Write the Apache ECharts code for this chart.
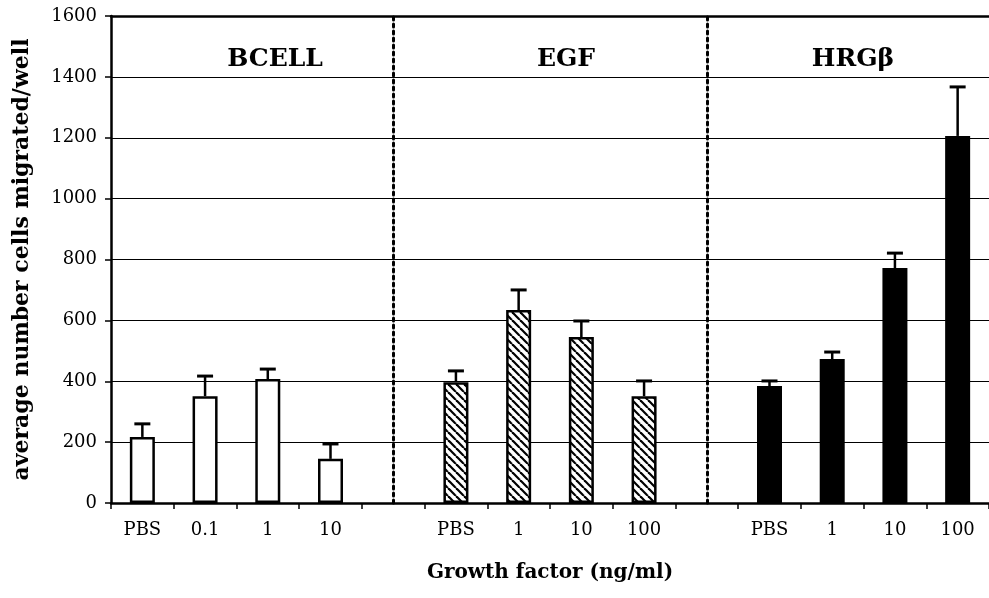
<!DOCTYPE html>
<html>
<head>
<meta charset="utf-8">
<script src="https://cdn.jsdelivr.net/npm/echarts@6/dist/echarts.min.js"></script>
<style>
html,body{margin:0;padding:0;background:#fff;}
#chart{width:989px;height:598px;}
</style>
</head>
<body>
<div id="chart"></div>
<script>
// ---- data ----
var categories = ['PBS','0.1','1','10','','PBS','1','10','100','','PBS','1','10','100'];
var bcellIdx = [0,1,2,3];
var egfIdx = [5,6,7,8];
var hrgIdx = [10,11,12,13];
var bcellMeans = [217, 351, 407, 145];
var bcellErr = [43, 66, 33, 49];
var egfMeans = [397, 634, 545, 351];
var egfErr = [37, 66, 53, 50];
var hrgMeans = [384, 473, 772, 1206];
var hrgErr = [17, 23, 49, 161];
var separatorIdx = [4, 9];
var groupTitles = ['BCELL', 'EGF', 'HRG\u03b2'];
var yTicks = {min: 0, max: 1600, interval: 200};

var FONT = '"DejaVu Serif", serif';

function padded(idx, vals) {
  var arr = categories.map(function(){ return '-'; });
  idx.forEach(function(k, i){ arr[k] = vals[i]; });
  return arr;
}
function errData(idx, means, errs) {
  return idx.map(function(k, i){ return [k, means[i], means[i] + errs[i]]; });
}

// hatch pattern
var tile = document.createElement('canvas');
var S = 8;
tile.width = S; tile.height = S;
var ctx = tile.getContext('2d');
ctx.fillStyle = '#fff';
ctx.fillRect(0,0,S,S);
ctx.strokeStyle = '#000';
ctx.lineWidth = 2.2;
[-S, 0, S].forEach(function(x0){
  ctx.beginPath();
  ctx.moveTo(x0, 0);
  ctx.lineTo(x0 + S, S);
  ctx.stroke();
});

var chart = echarts.init(document.getElementById('chart'), null, {renderer: 'canvas'});

var errAll = errData(bcellIdx, bcellMeans, bcellErr)
  .concat(errData(egfIdx, egfMeans, egfErr))
  .concat(errData(hrgIdx, hrgMeans, hrgErr));

var barBase = {
  type: 'bar',
  barWidth: 25,
  barGap: '-100%',
  animation: false
};

var titleLefts = [270, 561, 848];

var option = {
  backgroundColor: '#fff',
  animation: false,
  title: groupTitles.map(function(t, i){
    return {
      text: t,
      left: titleLefts[i],
      top: 42,
      textAlign: 'center',
      textStyle: {fontFamily: FONT, fontWeight: 'bold', fontSize: 25, color: '#000'}
    };
  }),
  grid: {
    left: 111, right: 0, top: 16, bottom: 95,
    show: true, borderColor: '#000', borderWidth: 0
  },
  xAxis: [{
    type: 'category',
    data: categories,
    boundaryGap: true,
    axisLine: {lineStyle: {color: '#000', width: 2.5}},
    axisTick: {show: true, interval: 0, length: 6, lineStyle: {color: '#000', width: 1.5}},
    axisLabel: {interval: 0, color: '#000', fontFamily: FONT, fontSize: 18, margin: 18},
    name: 'Growth factor (ng/ml)',
    nameLocation: 'middle',
    nameGap: 60,
    nameTextStyle: {fontFamily: FONT, fontWeight: 'bold', fontSize: 20, color: '#000'}
  }, {
    type: 'category',
    position: 'top',
    data: categories,
    axisLine: {lineStyle: {color: '#000', width: 2.5}},
    axisTick: {show: false},
    axisLabel: {show: false}
  }],
  yAxis: {
    type: 'value',
    min: yTicks.min, max: yTicks.max, interval: yTicks.interval,
    axisLine: {show: true, lineStyle: {color: '#000', width: 2.5}},
    axisTick: {show: true, length: 6, lineStyle: {color: '#000', width: 1.5}},
    axisLabel: {color: '#000', fontFamily: FONT, fontSize: 18, margin: 14,
      formatter: function(v){ return String(v); }},
    splitLine: {show: true, lineStyle: {color: '#000', width: 1}},
    name: 'average number cells migrated/well',
    nameLocation: 'middle',
    nameGap: 78,
    nameTextStyle: {fontFamily: FONT, fontWeight: 'bold', fontSize: 22, color: '#000'}
  },
  series: [
    Object.assign({}, barBase, {
      name: 'BCELL',
      data: padded(bcellIdx, bcellMeans),
      itemStyle: {color: '#fff', borderColor: '#000', borderWidth: 2.5},
      markLine: {
        silent: true,
        symbol: ['none','none'],
        label: {show: false},
        lineStyle: {color: '#000', width: 3, type: [3, 4], cap: 'round'},
        data: separatorIdx.map(function(k){ return {xAxis: k}; })
      }
    }),
    Object.assign({}, barBase, {
      name: 'EGF',
      data: padded(egfIdx, egfMeans),
      itemStyle: {color: {image: tile, repeat: 'repeat'}, borderColor: '#000', borderWidth: 2.5}
    }),
    Object.assign({}, barBase, {
      name: 'HRG',
      data: padded(hrgIdx, hrgMeans),
      itemStyle: {color: '#000', borderColor: '#000', borderWidth: 2.5}
    }),
    {
      type: 'custom',
      name: 'err',
      data: errAll,
      z: 5,
      renderItem: function(params, api) {
        var base = api.coord([api.value(0), api.value(1)]);
        var top = api.coord([api.value(0), api.value(2)]);
        var half = 8;
        return {
          type: 'group',
          children: [
            {type: 'line', shape: {x1: base[0], y1: base[1], x2: top[0], y2: top[1]},
             style: {stroke: '#000', lineWidth: 2.5}},
            {type: 'line', shape: {x1: top[0]-half, y1: top[1], x2: top[0]+half, y2: top[1]},
             style: {stroke: '#000', lineWidth: 3}}
          ]
        };
      },
      encode: {x: 0, y: [1, 2]}
    }
  ]
};
chart.setOption(option);
</script>
</body>
</html>
